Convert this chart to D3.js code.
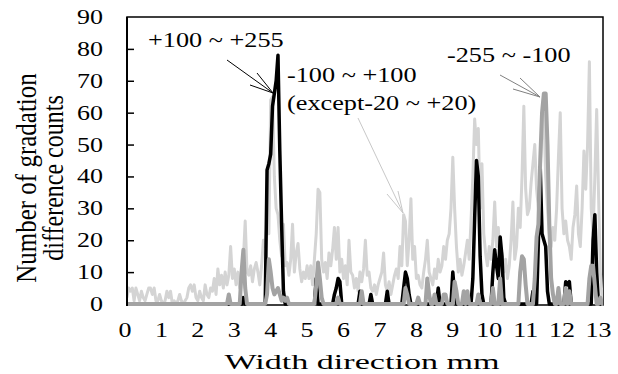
<!DOCTYPE html>
<html>
<head>
<meta charset="utf-8">
<script src="https://cdn.jsdelivr.net/npm/d3@7"></script>
<style>
    html, body { margin: 0; padding: 0; background: #fff; }
    svg { display: block; font-family: "Liberation Serif", "Times New Roman", serif; }
</style>
</head>
<body>
<svg id="chart" width="618" height="374"></svg>
<script>
// samples along the width, mm
const sampleStart = 0.05;
const sampleStep = 0.05;

const xTicks = [0, 1, 2, 3, 4, 5, 6, 7, 8, 9, 10, 11, 12, 13];
const yTicks = [0, 10, 20, 30, 40, 50, 60, 70, 80, 90];

// -100 ~ +100 (except -20 ~ +20)
const midRange = [
    2, 5, 4, 5, 1, 5, 3, 1, 4, 2, 1, 3, 5, 5, 3, 5, 1, 1, 3, 1,
    0, 1, 4, 2, 4, 0, 1, 0, 1, 3, 1, 0, 1, 2, 5, 6, 4, 6, 2, 1,
    4, 2, 1, 6, 3, 2, 5, 4, 8, 3, 11, 6, 9, 5, 10, 6, 9, 18, 8, 11,
    6, 10, 5, 8, 14, 26, 10, 9, 12, 7, 11, 13, 10, 6, 12, 20, 18, 26, 22, 64,
    65, 40, 30, 28, 20, 15, 25, 12, 13, 9, 14, 25, 10, 16, 19, 11, 7, 10, 8, 12,
    8, 12, 6, 14, 22, 36, 35, 14, 10, 13, 8, 16, 12, 17, 24, 14, 24, 10, 14, 8,
    12, 6, 20, 10, 9, 5, 8, 4, 10, 7, 11, 20, 9, 10, 5, 4, 6, 3, 6, 8,
    10, 16, 6, 4, 7, 3, 6, 9, 11, 8, 18, 12, 28, 26, 12, 20, 33, 14, 18, 8,
    9, 6, 5, 10, 14, 20, 10, 8, 6, 11, 8, 14, 10, 12, 18, 14, 20, 22, 30, 46,
    30, 18, 10, 14, 9, 12, 16, 20, 14, 26, 40, 58, 50, 55, 30, 44, 22, 16, 12, 18,
    14, 20, 32, 18, 24, 12, 16, 10, 14, 8, 12, 20, 32, 14, 18, 30, 24, 40, 62, 36,
    28, 30, 38, 44, 50, 36, 30, 42, 55, 60, 40, 30, 22, 18, 24, 20, 30, 46, 60, 30,
    22, 26, 20, 18, 14, 24, 28, 37, 22, 18, 30, 48, 36, 50, 76, 30, 22, 40, 61, 35,
    10, 2, 0, 0
];

// +100 ~ +255
const plusRange = [
    0, 0, 0, 0, 0, 0, 0, 0, 0, 0, 0, 0, 0, 0, 0, 0, 0, 0, 0, 0,
    0, 0, 0, 0, 0, 0, 0, 0, 0, 0, 0, 0, 0, 0, 0, 0, 0, 0, 0, 0,
    0, 0, 0, 0, 0, 0, 0, 0, 0, 0, 0, 0, 0, 0, 0, 0, 0, 0, 0, 0,
    0, 0, 0, 0, 2, 0, 0, 0, 0, 0, 0, 0, 0, 0, 0, 0, 0, 42, 44, 47,
    62, 66, 70, 78, 48, 25, 4, 0, 0, 0, 0, 0, 0, 0, 0, 0, 0, 0, 0, 0,
    0, 0, 0, 0, 8, 0, 0, 0, 0, 0, 0, 0, 0, 0, 3, 5, 8, 7, 0, 0,
    0, 0, 0, 0, 0, 0, 0, 0, 4, 0, 0, 0, 0, 0, 3, 0, 0, 0, 0, 0,
    0, 0, 0, 4, 0, 0, 0, 0, 0, 0, 0, 0, 5, 10, 8, 3, 0, 0, 0, 0,
    0, 0, 0, 0, 0, 0, 0, 0, 0, 0, 0, 5, 0, 0, 0, 0, 0, 0, 0, 10,
    3, 0, 0, 0, 0, 0, 0, 0, 0, 0, 8, 27, 45, 40, 15, 3, 0, 0, 0, 0,
    0, 10, 17, 12, 8, 21, 15, 2, 0, 0, 0, 0, 0, 0, 0, 0, 0, 0, 0, 0,
    0, 0, 0, 4, 0, 0, 20, 43, 22, 20, 18, 4, 0, 0, 0, 0, 0, 0, 0, 0,
    0, 7, 6, 7, 0, 0, 0, 0, 0, 0, 0, 0, 0, 0, 0, 0, 20, 28, 10, 0,
    0, 0, 0, 0
];

// -255 ~ -100
const minusRange = [
    0, 0, 0, 0, 0, 0, 0, 0, 0, 0, 0, 0, 0, 0, 0, 0, 0, 0, 0, 0,
    0, 0, 0, 0, 0, 0, 0, 0, 0, 0, 0, 0, 0, 0, 0, 0, 0, 0, 0, 0,
    0, 0, 0, 0, 0, 0, 0, 0, 0, 0, 0, 0, 0, 0, 0, 0, 3, 0, 0, 0,
    0, 0, 0, 10, 17, 5, 0, 0, 0, 0, 0, 0, 0, 0, 0, 0, 0, 3, 14, 10,
    5, 3, 4, 5, 3, 1, 2, 1, 2, 0, 0, 0, 0, 0, 0, 0, 0, 0, 0, 0,
    0, 0, 0, 0, 6, 13, 8, 2, 0, 0, 0, 0, 0, 0, 0, 0, 2, 0, 0, 0,
    0, 0, 0, 0, 0, 0, 0, 0, 0, 4, 0, 0, 0, 0, 0, 0, 0, 0, 0, 0,
    0, 0, 0, 0, 0, 0, 0, 0, 0, 0, 0, 0, 0, 5, 3, 0, 0, 0, 0, 0,
    2, 0, 0, 0, 0, 8, 3, 0, 0, 3, 0, 0, 0, 0, 3, 3, 0, 0, 0, 0,
    7, 4, 0, 0, 0, 4, 0, 4, 0, 0, 0, 0, 0, 3, 0, 0, 0, 0, 0, 0,
    0, 5, 0, 0, 0, 8, 0, 0, 0, 0, 0, 0, 0, 0, 0, 0, 10, 15, 14, 6,
    0, 0, 0, 0, 8, 21, 25, 45, 60, 66, 66, 50, 25, 8, 3, 0, 0, 5, 0, 0,
    0, 5, 0, 4, 0, 0, 0, 0, 0, 0, 0, 0, 0, 0, 8, 12, 12, 6, 0, 0,
    2, 0, 0, 0
];

let plotLeft = 127, plotRight = 603, plotTop = 17, plotBottom = 304;

let svg = d3.select('#chart');

let x = d3.scaleLinear().domain([0, 13]).range([125, 598.5]);
let y = d3.scaleLinear().domain([0, 90]).range([plotBottom, plotTop]);

svg.append('defs').append('clipPath')
    .attr('id', 'plot-clip')
    .append('rect')
    .attr('x', plotLeft).attr('y', plotTop - 2)
    .attr('width', plotRight - plotLeft).attr('height', plotBottom - plotTop + 6);

// frame
svg.append('rect')
    .attr('x', plotLeft).attr('y', plotTop)
    .attr('width', plotRight - plotLeft).attr('height', plotBottom + 1 - plotTop)
    .attr('fill', 'none')
    .attr('stroke', '#000')
    .attr('stroke-width', 1.5);

let line = d3.line()
    .x((d, i) => x(sampleStart + i * sampleStep))
    .y(d => y(d));

let plot = svg.append('g').attr('clip-path', 'url(#plot-clip)');

let series = [
    {values: midRange, color: '#d4d4d4', width: 3},
    {values: plusRange, color: '#000', width: 3.5},
    {values: minusRange, color: '#a3a3a3', width: 4}
];

series.forEach(s => {
    plot.append('path')
        .datum(s.values)
        .attr('d', line)
        .attr('fill', 'none')
        .attr('stroke', s.color)
        .attr('stroke-width', s.width)
        .attr('stroke-linejoin', 'round');
});

// left axis with inner ticks
let yAxis = svg.append('g')
    .attr('transform', 'translate(' + plotLeft + ',0)')
    .call(d3.axisLeft(y).tickValues(yTicks).tickSize(-7).tickPadding(0).tickFormat(''));
yAxis.select('.domain').attr('stroke-width', 2).attr('d', 'M0,' + plotTop + 'V' + (plotBottom + 2));
yAxis.selectAll('.tick line').attr('stroke-width', 1.5)
    .filter(d => d === 0 || d === 90).remove();

// tick labels, stretched horizontally like the original
svg.append('g').selectAll('text')
    .data(yTicks)
    .enter()
    .append('text')
    .attr('transform', d => 'translate(103,' + (y(d) + 7) + ') scale(1.3,1)')
    .attr('text-anchor', 'end')
    .attr('font-size', 20)
    .text(d => d);

svg.append('g').selectAll('text')
    .data(xTicks)
    .enter()
    .append('text')
    .attr('transform', d => 'translate(' + x(d) + ',337) scale(1.3,1)')
    .attr('text-anchor', 'middle')
    .attr('font-size', 20)
    .text(d => d);

// axis titles
svg.append('text')
    .attr('transform', 'translate(362,369) scale(1.55,1)')
    .attr('text-anchor', 'middle')
    .attr('font-size', 22)
    .text('Width direction mm');

svg.append('text')
    .attr('transform', 'translate(36,178) rotate(-90) scale(1,1.2)')
    .attr('text-anchor', 'middle')
    .attr('font-size', 25)
    .text('Number of gradation');

svg.append('text')
    .attr('transform', 'translate(63,178) rotate(-90) scale(1,1.2)')
    .attr('text-anchor', 'middle')
    .attr('font-size', 24)
    .text('difference counts');

// annotations
function label(tx, ty, txt) {
    svg.append('text')
        .attr('transform', 'translate(' + tx + ',' + ty + ') scale(1.25,1)')
        .attr('font-size', 21)
        .text(txt);
}

function arrow(from, tip, barbA, barbB, color) {
    let g = svg.append('g').attr('stroke', color).attr('stroke-width', 1).attr('fill', 'none');
    [from, barbA, barbB].forEach(p => {
        g.append('line')
            .attr('x1', p[0]).attr('y1', p[1])
            .attr('x2', tip[0]).attr('y2', tip[1]);
    });
}

label(148, 47, '+100 ~ +255');
arrow([227, 60], [273, 93], [257, 73], [250, 85], '#000');

label(287, 82, '-100 ~ +100');
label(287, 110, '(except-20 ~ +20)');
arrow([358, 118], [403, 213], [387, 194], [398, 191], '#c8c8c8');

label(447, 62, '-255 ~ -100');
arrow([500, 75], [540, 97], [520, 78], [513, 89], '#808080');
</script>
</body>
</html>
